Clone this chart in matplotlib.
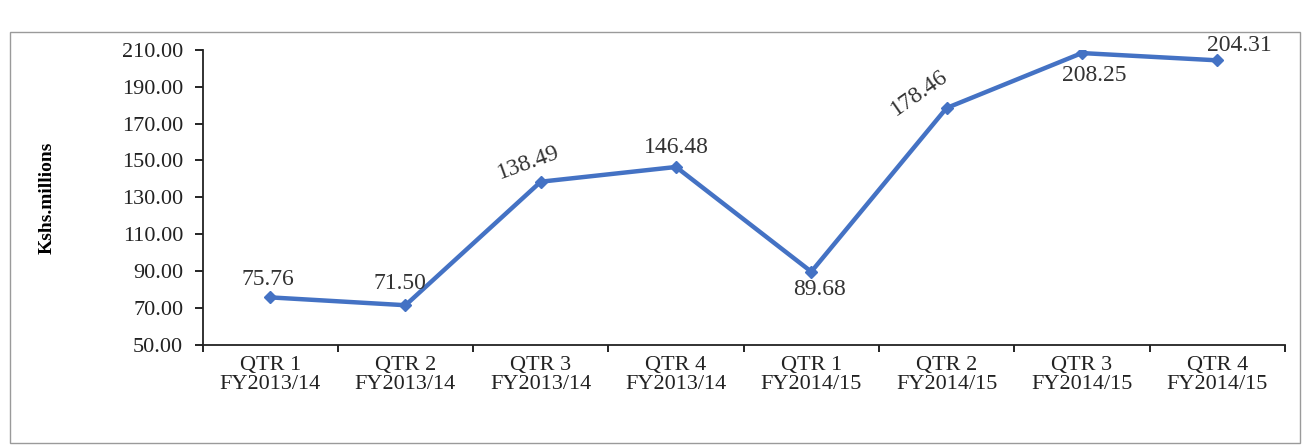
import matplotlib.pyplot as plt
from matplotlib.patches import Rectangle

# Quarterly values (Kshs. millions)
quarters = ['QTR 1\nFY2013/14', 'QTR 2\nFY2013/14', 'QTR 3\nFY2013/14', 'QTR 4\nFY2013/14',
            'QTR 1\nFY2014/15', 'QTR 2\nFY2014/15', 'QTR 3\nFY2014/15', 'QTR 4\nFY2014/15']
values = [75.76, 71.50, 138.49, 146.48, 89.68, 178.46, 208.25, 204.31]
y_ticks = [50, 70, 90, 110, 130, 150, 170, 190, 210]

plt.rcParams['font.family'] = ['Liberation Serif', 'DejaVu Serif']

fig = plt.figure(figsize=(13.07, 4.45), dpi=100)
ax = fig.add_axes([0.155, 0.225, 0.828, 0.663])

# outer frame around the chart
fig.patches.append(Rectangle((10 / 1307, 2 / 445), 1290 / 1307, 411 / 445,
                             transform=fig.transFigure, fill=False,
                             edgecolor='#9a9a9a', linewidth=1.0))

x = list(range(len(values)))
ax.plot(x, values, color='#4472C4', linewidth=3.2, marker='D', markersize=6.5)

ax.set_xlim(-0.5, len(values) - 0.5)
ax.set_ylim(50, 210)
ax.set_yticks(y_ticks)
ax.set_yticklabels([f'{v:.2f}' for v in y_ticks], fontsize=16, color='#222222')
ax.set_xticks(x)
ax.set_xticklabels(quarters, fontsize=16, color='#222222', linespacing=1.0)
ax.tick_params(axis='x', length=0, pad=8)
ax.set_xticks([i - 0.5 for i in range(len(values) + 1)], minor=True)
ax.tick_params(axis='x', which='minor', length=5, width=1.2, direction='out')
ax.tick_params(axis='y', length=6, width=1.2, direction='out', pad=8)

for side in ['top', 'right']:
    ax.spines[side].set_visible(False)
for side in ['left', 'bottom']:
    ax.spines[side].set_linewidth(1.3)
    ax.spines[side].set_color('#222222')

ax.set_ylabel('Kshs.millions', fontsize=14, fontweight='bold', labelpad=48)

# data labels: (dx, dy in pixels, rotation)
label_pos = [(-2, 18, 0), (-6, 22, 0), (-12, 19, 20), (0, 19, 0),
             (8, -18, 0), (-27, 15, 35), (12, -22, 0), (22, 15, 0)]
for xi, v, (dx, dy, rot) in zip(x, values, label_pos):
    ax.annotate(f'{v:.2f}', (xi, v), xytext=(dx, dy), textcoords='offset pixels',
                ha='center', va='center', rotation=rot, fontsize=17, color='#333333')

fig.savefig('out.png', dpi=100)
